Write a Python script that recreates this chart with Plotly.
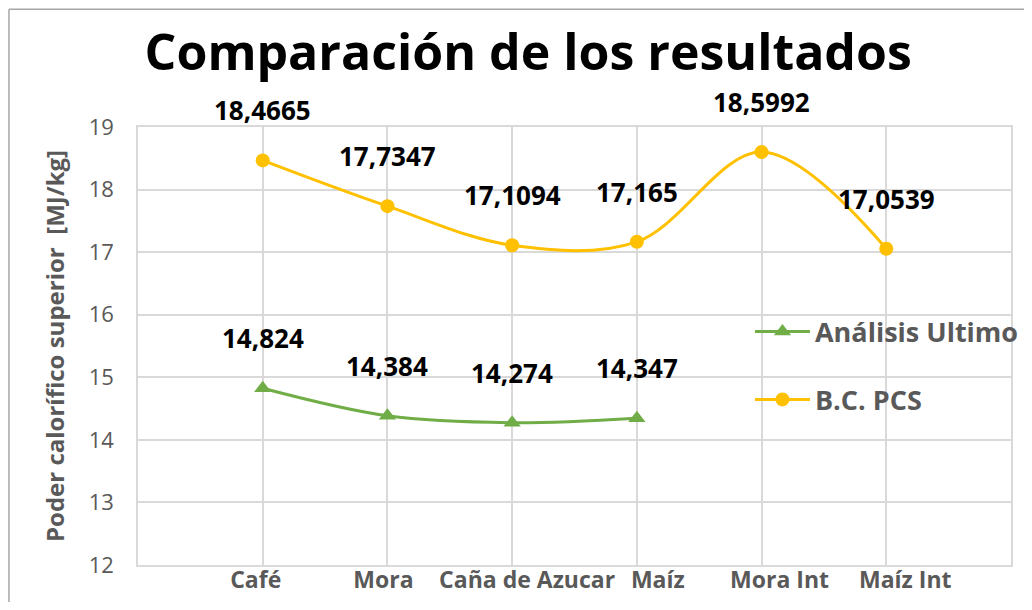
import plotly.graph_objects as go

categories = ["Café", "Mora", "Caña de Azucar", "Maíz", "Mora Int", "Maíz Int"]
positions = [1, 2, 3, 4, 5, 6]
analisis_ultimo = [14.824, 14.384, 14.274, 14.347]
bc_pcs = [18.4665, 17.7347, 17.1094, 17.165, 18.5992, 17.0539]

# layout-only: horizontal nudge of category labels (in axis units), as in the original
label_nudge = [-0.056, -0.032, 0.12, 0.168, 0.144, 0.152]

GREEN = "#70AD47"
YELLOW = "#FFC000"
GREY = "#595959"
GRID = "#D9D9D9"
FONT = "Open Sans"

fig = go.Figure()
fig.add_trace(go.Scatter(
    x=positions[:len(analisis_ultimo)], y=analisis_ultimo, name="Análisis Ultimo",
    mode="lines+markers", line=dict(color=GREEN, width=3, shape="spline", smoothing=1),
    marker=dict(symbol="triangle-up", size=15, color=GREEN), legend="legend",
))
fig.add_trace(go.Scatter(
    x=positions, y=bc_pcs, name="B.C. PCS",
    mode="lines+markers", line=dict(color=YELLOW, width=3, shape="spline", smoothing=1),
    marker=dict(symbol="circle", size=14, color=YELLOW), legend="legend2",
))

for xs, ys in ((positions, analisis_ultimo), (positions, bc_pcs)):
    for x, y in zip(xs, ys):
        fig.add_annotation(x=x, y=y, text=str(y).replace(".", ","), showarrow=False,
                           yshift=50, font=dict(family=FONT, size=26, color="black", weight="bold"))

# outer chart border (top and left visible)
fig.add_shape(type="line", xref="paper", yref="paper", x0=-0.1478, x1=1.05, y0=1.269, y1=1.269,
              line=dict(color="#A6A6A6", width=1.5))
fig.add_shape(type="line", xref="paper", yref="paper", x0=-0.1478, x1=-0.1478, y0=-0.2, y1=1.269,
              line=dict(color="#A6A6A6", width=1.5))

fig.update_layout(
    width=1016, height=594,
    margin=dict(l=130, r=13, t=119, b=37, autoexpand=False),
    paper_bgcolor="white", plot_bgcolor="white",
    title=dict(text="<b>Comparación de los resultados</b>", x=0.512, xanchor="center",
               y=0.925, yanchor="middle", font=dict(family=FONT, size=50, color="black")),
    xaxis=dict(range=[0, 7], tickvals=[p + d for p, d in zip(positions, label_nudge)],
               ticktext=categories, showgrid=False, automargin=False,
               minor=dict(tick0=0, dtick=1, showgrid=True, gridcolor=GRID, gridwidth=1.5),
               showline=True, linecolor=GRID, linewidth=1.5, mirror=True, zeroline=False,
               ticklabelstandoff=-6,
               tickfont=dict(family=FONT, size=23, color=GREY, weight="bold"), ticks=""),
    yaxis=dict(range=[12, 19], dtick=1, showgrid=True, gridcolor=GRID, gridwidth=1.5,
               showline=True, linecolor=GRID, linewidth=1.5, mirror=True, zeroline=False,
               automargin=False,
               tickfont=dict(family=FONT, size=22, color=GREY), ticks="", ticklabelstandoff=18,
               title=dict(text="<b>Poder calorífico superior  [MJ/kg]</b>", standoff=17,
                          font=dict(family=FONT, size=24, color=GREY))),
    legend=dict(x=0.701, y=0.532, xanchor="left", yanchor="middle", bgcolor="rgba(0,0,0,0)",
                itemwidth=55,
                font=dict(family=FONT, size=27, color=GREY, weight="bold")),
    legend2=dict(x=0.701, y=0.377, xanchor="left", yanchor="middle", bgcolor="rgba(0,0,0,0)",
                 itemwidth=55,
                 font=dict(family=FONT, size=27, color=GREY, weight="bold")),
    showlegend=True,
)

fig.write_html("out.html")
